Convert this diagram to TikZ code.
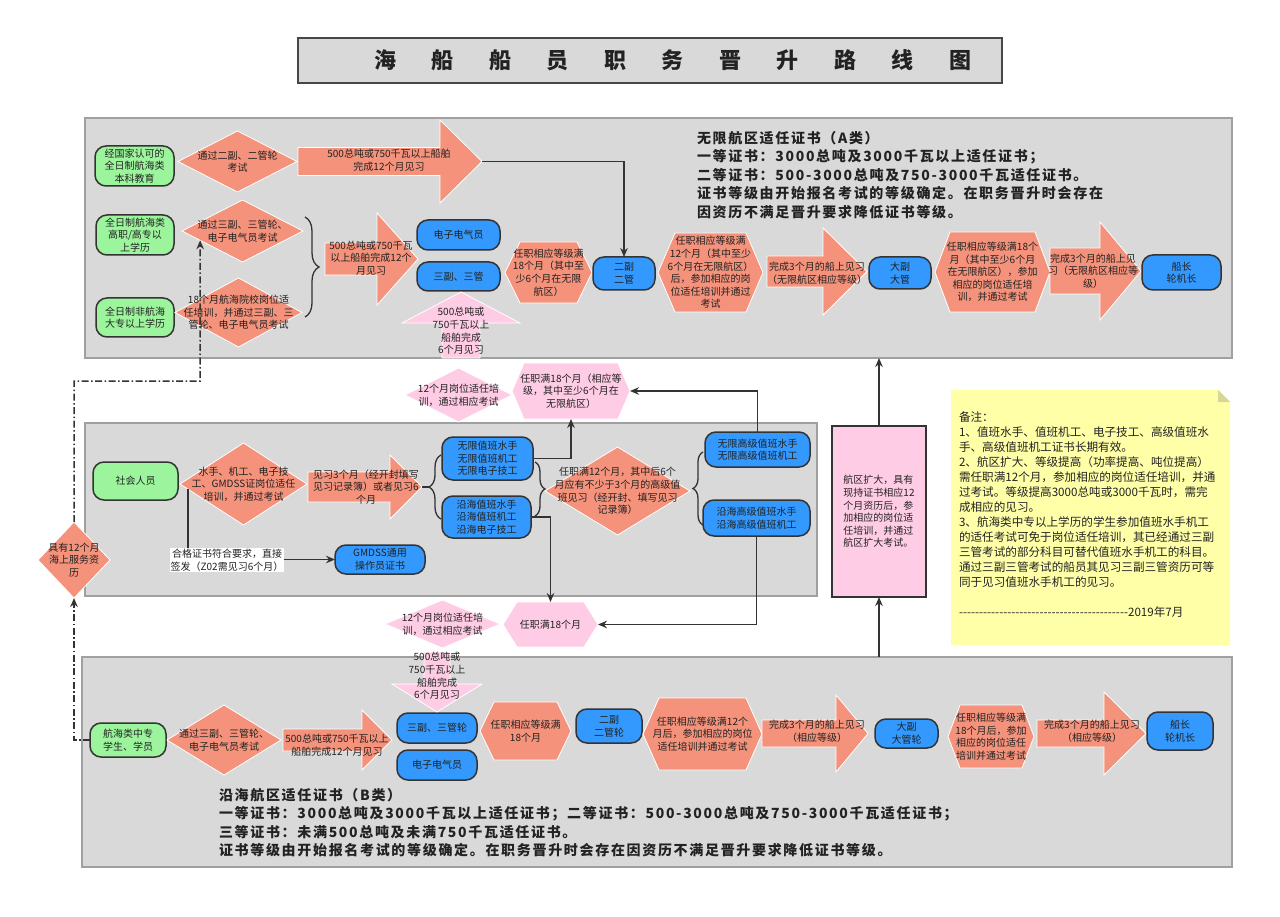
\documentclass[tikz,border=0pt]{standalone}
\usepackage{fontspec}
\setmainfont{Noto Sans CJK SC}
\newfontfamily\hfont{Noto Sans CJK SC}[LetterSpace=12]
\newfontfamily\notefont{Noto Sans CJK SC}[Ligatures=TeXOff]
\usetikzlibrary{shapes.geometric,arrows.meta,decorations.pathreplacing,calc}
\definecolor{salm}{HTML}{F4927B}
\definecolor{grn}{HTML}{9CF59C}
\definecolor{blu}{HTML}{3399FF}
\definecolor{pnk}{HTML}{FFCCE5}
\definecolor{yel}{HTML}{FFFFA8}
\definecolor{fold}{HTML}{D6D69A}
\definecolor{pan}{HTML}{D9D9D9}
\definecolor{panb}{HTML}{A0A0A0}
\definecolor{ln}{HTML}{333333}
\definecolor{txt}{HTML}{222222}
\newcommand\fs{\fontsize{10}{12.6}\selectfont}
\tikzset{
 lbl/.style={inner sep=0, outer sep=0, align=center, font=\fs, text=txt},
 gbox/.style={rectangle, rounded corners=11pt, fill=grn, draw=ln, line width=1.5pt, align=center, font=\fs, text=txt, inner sep=0, outer sep=0},
 bbox/.style={gbox, fill=blu},
 pbox/.style={rectangle, fill=pnk, draw=ln, line width=2pt, align=left, font=\fs, text=txt, inner sep=0, outer sep=0},
 diam/.style={diamond, fill=salm, draw=white, line width=0.8pt, inner sep=0, outer sep=0},
 pdia/.style={diam, fill=pnk},
 hexf/.style={fill=salm, draw=white, line width=0.8pt},
 phex/.style={fill=pnk, draw=white, line width=0.8pt},
 arrf/.style={fill=salm, draw=white, line width=0.8pt},
 parr/.style={fill=pnk, draw=white, line width=0.8pt},
 conn/.style={draw=ln, line width=1.6pt, -{Stealth[length=9pt,width=7.5pt]}},
 dd/.style={draw=ln, line width=1.5pt, dash pattern=on 7pt off 2.5pt on 1.5pt off 2.5pt},
 brc/.style={draw=ln, line width=1.3pt, decorate, decoration={brace, amplitude=#1}},
 panel/.style={rectangle, fill=pan, draw=panb, line width=1.5pt, inner sep=0, outer sep=0},
 hdr/.style={inner sep=0, outer sep=0, align=left, text=txt, font=\hfont\bfseries\fontsize{14}{18.6}\selectfont},
}
% box by corners
\newcommand\mkbox[7][]{\node[#1, minimum width={#4-#2}, minimum height={#5-#3}] (#6) at ({(#2+#4)/2},{(#3+#5)/2}) {#7};}
% diamond with text
\newcommand\dia[7][diam]{\node[#1, minimum width={#4-#2}, minimum height={#5-#3}] (#6) at ({(#2+#4)/2},{(#3+#5)/2}) {};
 \node[lbl] (#6t) at (#6) {#7};}
% hexagon: style, x1,y1,x2,y2, indent, name, text
\newcommand\hexa[8][hexf]{\node[inner sep=0, outer sep=0, minimum width={#4-#2}, minimum height={#5-#3}] (#7) at ({(#2+#4)/2},{(#3+#5)/2}) {};
 \path[#1] (#2,{(#3+#5)/2}) -- ({#2+#6},#3) -- ({#4-#6},#3) -- (#4,{(#3+#5)/2}) -- ({#4-#6},#5) -- ({#2+#6},#5) -- cycle;
 \node[lbl] (#7t) at (#7) {#8};}
% right arrow: style, x1, xhead, xtip, yc, body half, head half, name
\newcommand\rarr[8][arrf]{\node[inner sep=0, outer sep=0, minimum width={#4-#2}, minimum height={2*#7}] (#8) at ({(#2+#4)/2},#5) {};
 \path[#1] (#2,{#5-#6}) -- (#3,{#5-#6}) -- (#3,{#5-#7}) -- (#4,#5) -- (#3,{#5+#7}) -- (#3,{#5+#6}) -- (#2,{#5+#6}) -- cycle;}
\begin{document}
\begin{tikzpicture}[x=1pt,y=-1pt]
\useasboundingbox (0,0) rectangle (1280,917);
\fill[white] (0,0) rectangle (1280,917);

% title
\node[rectangle, fill=pan, draw=ln!90, line width=1.8pt, minimum width=704, minimum height=45, inner sep=0] (title) at (650,60.5) {};
\node[inner sep=0, text=txt, font=\bfseries\fontsize{22}{26}\selectfont] (titlet) at (673,60.5)
 {海\hspace{35.5pt}船\hspace{35.5pt}船\hspace{35.5pt}员\hspace{35.5pt}职\hspace{35.5pt}务\hspace{35.5pt}晋\hspace{35.5pt}升\hspace{35.5pt}路\hspace{35.5pt}线\hspace{35.5pt}图};

% panels
\node[panel, minimum width=1147, minimum height=240] (pA) at (658.5,238) {};
\node[panel, minimum width=732, minimum height=173] (pM) at (451,509.5) {};
\node[panel, minimum width=1150, minimum height=210] (pB) at (657,762) {};

% ===== top section =====
\node[hdr, anchor=north west] (hA) at (697,131) {无限航区适任证书（A类）\\一等证书：3000总吨及3000千瓦以上适任证书；\\二等证书：500-3000总吨及750-3000千瓦适任证书。\\证书等级由开始报名考试的等级确定。在职务晋升时会存在\\因资历不满足晋升要求降低证书等级。};

\mkbox[gbox]{95}{146}{174}{186}{g1}{经国家认可的\\全日制航海类\\本科教育}
\mkbox[gbox]{96}{215}{174}{255}{g2}{全日制航海类\\高职/高专以\\上学历}
\mkbox[gbox]{96}{298}{174}{337}{g3}{全日制非航海\\大专以上学历}

\dia{178}{131}{297}{192}{d1}{通过二副、二管轮\\考试}
\dia{182}{200}{303}{262}{d2}{通过三副、三管轮、\\电子电气员考试}
\dia{175}{278}{302}{347}{d3}{18个月航海院校岗位适\\任培训，并通过三副、三\\管轮、电子电气员考试}

\rarr{298}{440}{482}{161.5}{14}{41.5}{a1}
\node[lbl] (a1t) at (389,160) {500总吨或750千瓦以上船舶\\完成12个月见习};

\draw[brc=14pt] (305,217) -- (305,317);
\rarr{325}{377}{418}{259}{16}{46}{a2}
\node[lbl] (a2t) at (371,258) {500总吨或750千瓦\\以上船舶完成12个\\月见习};

\mkbox[bbox]{417}{220}{500}{250}{b1}{电子电气员}
\mkbox[bbox]{417}{262}{500}{291}{b2}{三副、三管}

% pink up arrow
\path[parr] (461,292) -- (520,323) -- (480,323) -- (480,358) -- (442,358) -- (442,323) -- (402,323) -- cycle;
\node[lbl] (upt) at (461,331) {500总吨或\\750千瓦以上\\船舶完成\\6个月见习};

\hexa{505}{242}{592}{303}{15}{h1}{任职相应等级满\\18个月（其中至\\少6个月在无限\\航区）}
\mkbox[bbox]{593}{257}{655}{290}{b3}{二副\\二管}
\hexa{658}{233}{763}{312}{17}{h2}{任职相应等级满\\12个月（其中至少\\6个月在无限航区）\\后，参加相应的岗\\位适任培训并通过\\考试}
\rarr{767}{823}{867}{271.5}{15.5}{43.5}{a3}
\node[lbl] (a3t) at (817,273) {完成3个月的船上见习\\（无限航区相应等级）};
\mkbox[bbox]{869}{257}{931}{289}{b4}{大副\\大管}
\hexa{935}{232}{1050}{312}{15}{h3}{任职相应等级满18个\\月（其中至少6个月\\在无限航区），参加\\相应的岗位适任培\\训，并通过考试}
\rarr{1050}{1100}{1141}{271}{23}{49}{a4}
\node[lbl] (a4t) at (1093,271) {完成3个月的船上见\\习（无限航区相应等\\级）};
\mkbox[bbox]{1142}{255}{1221}{290}{b5}{船长\\轮机长}

\draw[conn] (a1.east) -| (b3.north);

% ===== between top and middle =====
\dia[pdia]{405}{368}{512}{422}{pd1}{12个月岗位适任培\\训，通过相应考试}
\hexa[phex]{512}{363}{630}{419}{12}{ph1}{任职满18个月（相应等\\级，其中至少6个月在\\无限航区）}

% ===== middle section =====
\mkbox[gbox]{93}{462}{178}{500}{g4}{社会人员}
\dia{180}{443}{307}{525}{d4}{水手、机工、电子技\\工、GMDSS证岗位适任\\培训，并通过考试}
\rarr{308}{390}{422}{487}{15}{32}{a5}
\node[lbl] (a5t) at (366,487) {见习3个月（经开封填写\\见习记录簿）或者见习6\\个月};
\draw[brc=12pt] (441,519) -- (441,455);
\draw[draw=ln, line width=1.3pt] (a5.east) -- (429,487);

\mkbox[bbox]{442}{437}{533}{480}{b6}{无限值班水手\\无限值班机工\\无限电子技工}
\mkbox[bbox]{442}{496}{531}{538}{b7}{沿海值班水手\\沿海值班机工\\沿海电子技工}
\draw[brc=10pt] (535,462) -- (535,516);
\dia{545}{447}{690}{535}{d5}{任职满12个月，其中后6个\\月应有不少于3个月的高级值\\班见习（经开封、填写见习\\记录簿）}
\draw[brc=10pt] (703,525) -- (703,452);
\mkbox[bbox]{705}{432}{810}{467}{b8}{无限高级值班水手\\无限高级值班机工}
\mkbox[bbox]{703}{500}{810}{536}{b9}{沿海高级值班水手\\沿海高级值班机工}

\mkbox[bbox]{335}{545}{425}{574}{b10}{GMDSS通用\\操作员证书}
\coordinate (gs) at ($(d4.west)!0.13!(d4.south)$);
\draw[conn] (gs) |- (b10.west);
\node[lbl, fill=white, inner sep=1pt] (gl) at (227,560) {合格证书符合要求，直接\\签发（Z02需见习6个月）};

\dia{38}{522}{110}{598}{d6}{具有12个月\\海上服务资\\历}

% ===== between middle and bottom =====
\dia[pdia]{385}{600}{500}{648}{pd2}{12个月岗位适任培\\训，通过相应考试}
\hexa[phex]{503}{602}{598}{647}{14}{ph2}{任职满18个月}

\draw[conn] (b6.east) -| (ph1.south);
\draw[conn] (b8.north) |- (ph1.east);
\draw[conn] (b7.east) -| (ph2.north);
\draw[conn] (b9.south) |- (ph2.east);

% pink box
\mkbox[pbox]{832}{426}{926}{597}{pb}{航区扩大，具有\\现持证书相应12\\个月资历后，参\\加相应的岗位适\\任培训，并通过\\航区扩大考试。}
\draw[conn] (pb.north) -- (pb.north |- pA.south);
\draw[conn] (pb.south |- pB.north) -- (pb.south);

% ===== bottom section =====
\mkbox[gbox]{90}{723}{166}{757}{g5}{航海类中专\\学生、学员}
\dia{167}{705}{281}{775}{d7}{通过三副、三管轮、\\电子电气员考试}
\rarr{283}{362}{392}{740}{11}{30}{a6}
\node[lbl] (a6t) at (337,745) {500总吨或750千瓦以上\\船舶完成12个月见习};
\mkbox[bbox]{397}{713}{477}{743}{b11}{三副、三管轮}
\mkbox[bbox]{397}{750}{477}{780}{b12}{电子电气员}

% pink down arrow
\path[parr] (437,712) -- (482,684) -- (450,684) -- (450,652) -- (424,652) -- (424,684) -- (392,684) -- cycle;
\node[lbl] (dnt) at (437,676) {500总吨或\\750千瓦以上\\船舶完成\\6个月见习};

\hexa{480}{702}{571}{760}{14}{h4}{任职相应等级满\\18个月}
\mkbox[bbox]{576}{709}{642}{743}{b13}{二副\\二管轮}
\hexa{643}{698}{762}{770}{16}{h5}{任职相应等级满12个\\月后，参加相应的岗位\\适任培训并通过考试}
\rarr{762}{836}{868}{733.5}{13.5}{38.5}{a7}
\node[lbl] (a7t) at (817,731) {完成3个月的船上见习\\（相应等级）};
\mkbox[bbox]{875}{719}{938}{748}{b14}{大副\\大管轮}
\hexa{948}{705}{1034}{768}{12}{h6}{任职相应等级满\\18个月后，参加\\相应的岗位适任\\培训并通过考试}
\rarr{1037}{1104}{1146}{733.5}{13.5}{41.5}{a8}
\node[lbl] (a8t) at (1092,731) {完成3个月的船上见习\\（相应等级）};
\mkbox[bbox]{1147}{712}{1213}{750}{b15}{船长\\轮机长}

\node[hdr, anchor=north west] (hB) at (219,788) {沿海航区适任证书（B类）\\一等证书：3000总吨及3000千瓦以上适任证书；二等证书：500-3000总吨及750-3000千瓦适任证书；\\三等证书：未满500总吨及未满750千瓦适任证书。\\证书等级由开始报名考试的等级确定。在职务晋升时会存在因资历不满足晋升要求降低证书等级。};

% dash-dot links
\coordinate (dk) at (200,381);
\coordinate (d2e) at ($(d2.west)!0.3!(d2.south)$);
\draw[dd, -{Stealth[length=9pt,width=7.5pt]}] (g5.west) -| (d6.south);
\draw[dd, -{Stealth[length=9pt,width=7.5pt]}] (d6.north) |- (dk) -- (d2e);

% notes
\path[fill=yel] (951,390) -- (1218,390) -- (1230,402) -- (1230,645) -- (951,645) -- cycle;
\path[fill=fold] (1218,390) -- (1230,402) -- (1218,402) -- cycle;
\node[inner sep=0, outer sep=0, anchor=north west, align=left, text=txt, font=\notefont\fontsize{11.6}{15}\selectfont] (notes) at (959,412) {备注：\\1、值班水手、值班机工、电子技工、高级值班水\\手、高级值班机工证书长期有效。\\2、航区扩大、等级提高（功率提高、吨位提高）\\需任职满12个月，参加相应的岗位适任培训，并通\\过考试。等级提高3000总吨或3000千瓦时，需完\\成相应的见习。\\3、航海类中专以上学历的学生参加值班水手机工\\的适任考试可免于岗位适任培训，其已经通过三副\\三管考试的部分科目可替代值班水手机工的科目。\\通过三副三管考试的船员其见习三副三管资历可等\\同于见习值班水手机工的见习。\\[15pt]------------------------------------------2019年7月};
\end{tikzpicture}
\end{document}
